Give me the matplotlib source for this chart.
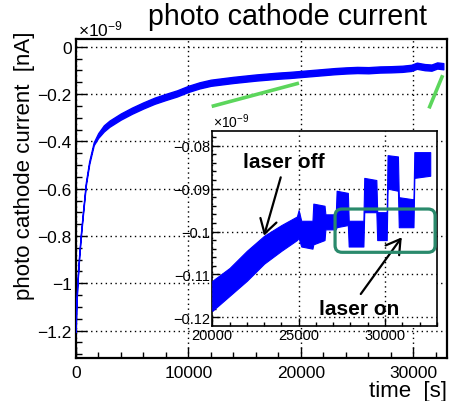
import matplotlib
matplotlib.use('Agg')
import matplotlib.pyplot as plt
from matplotlib.ticker import MultipleLocator, FuncFormatter
from matplotlib.patches import FancyBboxPatch
from matplotlib.transforms import IdentityTransform

plt.rcParams['font.family'] = ['Liberation Sans', 'DejaVu Sans']
plt.rcParams['mathtext.fontset'] = 'custom'
plt.rcParams['mathtext.rm'] = 'Liberation Sans'
plt.rcParams['mathtext.it'] = 'Liberation Sans:italic'
plt.rcParams['axes.unicode_minus'] = True

# ---------------- data (units of 1e-9) ----------------
# main panel: time [s] and lower / upper envelope of the noisy trace
main_t = [0, 50, 150, 300, 450, 650, 900, 1200, 1600, 2000, 2500, 3000, 4000, 5000,
          6000, 7000, 8000, 9000, 10000, 11000, 12000, 13000, 14000, 15000, 16000,
          17000, 18000, 19000, 20000, 21000, 22000, 23000, 24000, 25000, 26000, 27000,
          28000, 29000, 29800, 30300, 31000, 31600, 32100, 32650]
main_lo = [-1.206, -1.106, -1.006, -0.896, -0.806, -0.706, -0.586, -0.496, -0.416, -0.385,
           -0.358, -0.338, -0.308, -0.283, -0.261, -0.241, -0.225, -0.210, -0.191, -0.176,
           -0.165, -0.159, -0.153, -0.148, -0.143, -0.139, -0.135, -0.132, -0.128, -0.124,
           -0.120, -0.116, -0.113, -0.111, -0.112, -0.109, -0.108, -0.106, -0.102, -0.093,
           -0.099, -0.101, -0.092, -0.095]
main_hi = [-1.194, -1.094, -0.994, -0.884, -0.794, -0.694, -0.574, -0.484, -0.404, -0.365,
           -0.332, -0.312, -0.282, -0.257, -0.235, -0.215, -0.199, -0.184, -0.165, -0.150,
           -0.139, -0.133, -0.127, -0.122, -0.117, -0.113, -0.109, -0.106, -0.102, -0.098,
           -0.094, -0.090, -0.087, -0.085, -0.086, -0.083, -0.082, -0.080, -0.076, -0.067,
           -0.073, -0.075, -0.066, -0.069]

# inset panel: zoom on 20000-33000 s, laser on/off steps
inset_t = [20000, 21000, 22000, 23000, 24000, 24900, 25000, 25150, 25800, 25850, 26500,
           26550, 27150, 27200, 27850, 27900, 28750, 28800, 29500, 29550, 30100, 30150,
           30750, 30800, 31650, 31700, 32620]
inset_lo = [-0.1185, -0.1150, -0.1115, -0.1075, -0.1045, -0.1020, -0.1015, -0.1035,
            -0.1040, -0.1030, -0.1020, -0.0995, -0.0995, -0.0990, -0.0985, -0.1035,
            -0.1035, -0.0955, -0.0955, -0.1020, -0.1020, -0.0900, -0.0905, -0.0990,
            -0.0990, -0.0875, -0.0870]
inset_hi = [-0.1115, -0.1085, -0.1045, -0.1010, -0.0985, -0.0965, -0.0950, -0.0975,
            -0.0975, -0.0935, -0.0940, -0.0960, -0.0960, -0.0905, -0.0910, -0.0975,
            -0.0975, -0.0875, -0.0880, -0.0955, -0.0955, -0.0822, -0.0825, -0.0920,
            -0.0925, -0.0815, -0.0815]

main_xticks = [0, 10000, 20000, 30000]
inset_xticks = [20000, 25000, 30000]

# annotation geometry (data coordinates)
green_line1 = ([12078, 19831], [-0.252, -0.1535])
green_line2 = ([31377, 32595], [-0.2605, -0.1201])
laser_box = (27109, 32903, -0.10485, -0.09476)  # t0, t1, v_low, v_high

W, H = 450, 402
fig = plt.figure(figsize=(W / 100, H / 100), dpi=100)


def fmt(v, pos):
    if abs(v) < 1e-12:
        return '0'
    return ('%g' % v).replace('-', '\u2212')


dot = (0, (1, 2.5))

# ---------------- main axes ----------------
L, R, T, B = 75.7, 446.7, 40.0, 359.3
ax = fig.add_axes([L / W, 1 - B / H, (R - L) / W, (B - T) / H])
ax.fill_between(main_t, main_lo, main_hi, color='#0000ff', edgecolor='#0000ff',
                linewidth=1.0, zorder=3)
ax.plot(*green_line1, color='#5cd65c', lw=2.6, solid_capstyle='butt', zorder=4)
ax.plot(*green_line2, color='#5cd65c', lw=2.6, solid_capstyle='butt', zorder=4)
ax.set_xlim(0, 32950)
ax.set_ylim(-1.317, 0.033)
ax.set_xticks(main_xticks)
ax.xaxis.set_minor_locator(MultipleLocator(2000))
ax.yaxis.set_major_locator(MultipleLocator(0.2))
ax.yaxis.set_minor_locator(MultipleLocator(0.05))
ax.xaxis.set_major_formatter(FuncFormatter(fmt))
ax.yaxis.set_major_formatter(FuncFormatter(fmt))
ax.tick_params(which='major', direction='in', length=8, width=1, labelsize=12.5)
ax.tick_params(which='minor', direction='in', length=4, width=1)
ax.tick_params(axis='y', pad=3)
ax.tick_params(axis='x', pad=5)
ax.grid(True, which='major', color='black', linestyle=dot, linewidth=1)
ax.set_axisbelow(True)
for s in ax.spines.values():
    s.set_linewidth(1.6)

# ---------------- inset axes ----------------
iL, iR, iT, iB = 212.3, 437.3, 132.3, 326.7
ax2 = fig.add_axes([iL / W, 1 - iB / H, (iR - iL) / W, (iB - iT) / H])
ax2.set_facecolor('white')
ax2.fill_between(inset_t, inset_lo, inset_hi, color='#0000ff', edgecolor='#0000ff',
                 linewidth=0.8, zorder=3)
ax2.set_xlim(20000, 33030)
ax2.set_ylim(-0.12196, -0.07664)
ax2.set_xticks(inset_xticks)
ax2.xaxis.set_minor_locator(MultipleLocator(1000))
ax2.yaxis.set_major_locator(MultipleLocator(0.01))
ax2.yaxis.set_minor_locator(MultipleLocator(0.002))
ax2.xaxis.set_major_formatter(FuncFormatter(fmt))
ax2.yaxis.set_major_formatter(FuncFormatter(fmt))
ax2.tick_params(which='major', direction='in', length=6, width=1, labelsize=10.5, pad=1.5)
ax2.tick_params(which='minor', direction='in', length=3, width=1)
ax2.grid(True, which='major', color='black', linestyle=dot, linewidth=1)
ax2.set_axisbelow(True)
for s in ax2.spines.values():
    s.set_linewidth(1.2)

# texts
ax2.text(24119, -0.08504, 'laser off', ha='center', va='baseline', fontsize=15,
         fontweight='bold', zorder=6)
ax2.text(28499, -0.11923, 'laser on', ha='center', va='baseline', fontsize=15,
         fontweight='bold', zorder=6)
arrow = dict(arrowstyle='->,head_length=0.5,head_width=0.3', lw=1.6, color='black',
             shrinkA=0, shrinkB=0, mutation_scale=20)
ax2.annotate('', xy=(22995, -0.10098), xytext=(23963, -0.08737), arrowprops=arrow,
             zorder=6)
ax2.annotate('', xy=(30973, -0.10135), xytext=(28598, -0.11457), arrowprops=arrow,
             zorder=6)

# rounded teal box (built in display pixels so corners are round)
(x0, y0) = ax2.transData.transform((laser_box[0], laser_box[2]))
(x1, y1) = ax2.transData.transform((laser_box[1], laser_box[3]))
box = FancyBboxPatch((x0, y0), x1 - x0, y1 - y0,
                     boxstyle='round,pad=0,rounding_size=7',
                     transform=IdentityTransform(), facecolor='none',
                     edgecolor='#2a8a6c', linewidth=2.3, zorder=7)
fig.add_artist(box)

fig.text(288 / W, 1 - 25 / H, 'photo cathode current', ha='center', va='baseline',
         fontsize=20.6)
fig.text(447 / W, 1 - 397 / H, 'time  [s]', ha='right', va='baseline', fontsize=16)
fig.text(30.5 / W, 1 - 31 / H, 'photo cathode current  [nA]', rotation=90,
         rotation_mode='anchor', ha='right', va='baseline', fontsize=16)
fig.text(78 / W, 1 - 36.7 / H, r'$\times10^{-9}$', ha='left', va='baseline',
         fontsize=12.5)
fig.text(213 / W, 1 - 128.3 / H, r'$\times10^{-9}$', ha='left', va='baseline',
         fontsize=10)

fig.savefig('out.png', dpi=100)
